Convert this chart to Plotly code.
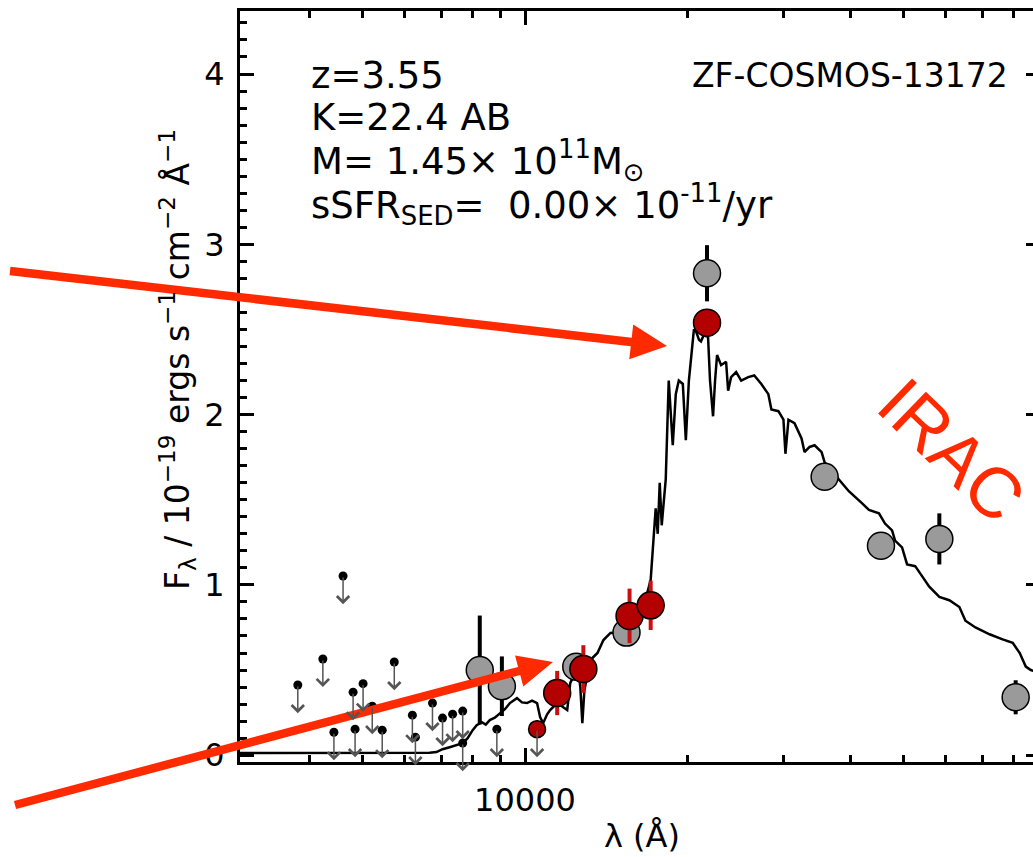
import numpy as np
import plotly.graph_objects as go

# ---------------------------------------------------------------------------
# SED of ZF-COSMOS-13172 : observed-frame wavelength (Angstrom),
# F_lambda in units of 1e-19 erg s^-1 cm^-2 A^-1
# ---------------------------------------------------------------------------

# best-fit stellar population model
model_wave = [2900, 3819, 5377, 6660, 6862, 7040, 7256, 7475, 7671, 7834, 8003,
              8142, 8321, 8463, 8608, 8794, 8985, 9180, 9378, 9663, 9872, 10086,
              10304, 10527, 10664, 10802, 10988, 11130, 11468, 11765, 11968, 12125,
              12335, 12495, 12655, 12764, 12875, 13209, 13613, 13964, 14388, 14825,
              15210, 15674, 16150, 16569, 16928, 17073, 17221, 17441, 17592, 17743,
              17895, 18048, 18203, 18437, 18755, 18998, 19245, 19576, 19829, 20088,
              20348, 20523, 20701, 20969, 21149, 21424, 21608, 21793, 21979, 22265,
              22456, 22648, 23041, 23536, 23740, 24044, 24565, 25097, 25860, 26535,
              27342, 28174, 28539, 29405, 30041, 30299, 30690, 31486, 32448, 32860,
              33574, 34300, 35340, 35800, 36890, 38010, 39680, 40720, 41950, 43230,
              45110, 46290, 47700, 48310, 49770, 50850, 52630, 54230, 55880, 58330,
              60860, 63530, 65180, 68030, 72230, 76360, 79700, 82130, 84270, 86100,
              87960, 90640]
model_flux = [0.012, 0.012, 0.013, 0.015, 0.018, 0.035, 0.047, 0.060, 0.070, 0.100, 0.147,
              0.176, 0.194, 0.180, 0.206, 0.220, 0.247, 0.270, 0.306, 0.335, 0.310, 0.306,
              0.320, 0.306, 0.224, 0.188, 0.240, 0.265, 0.306, 0.282, 0.265, 0.424,
              0.470, 0.541, 0.400, 0.188, 0.380, 0.559, 0.600, 0.676, 0.718, 0.720,
              0.753, 0.794, 0.835, 0.871, 0.980, 1.030, 1.200, 1.450, 1.300, 1.600,
              1.350, 1.500, 1.620, 2.200, 1.820, 2.120, 2.200, 2.180, 1.850, 2.200,
              2.400, 2.500, 2.490, 2.440, 2.430, 2.470, 2.460, 2.460, 2.200, 1.990,
              2.200, 2.350, 2.290, 2.310, 2.140, 2.220, 2.250, 2.200, 2.220, 2.230,
              2.180, 2.120, 2.030, 2.020, 1.970, 1.770, 1.970, 1.950, 1.860, 1.780,
              1.810, 1.820, 1.780, 1.720, 1.680, 1.620, 1.550, 1.520, 1.480, 1.440,
              1.420, 1.360, 1.320, 1.260, 1.220, 1.120, 1.110, 1.050, 0.990, 0.930,
              0.910, 0.870, 0.790, 0.750, 0.710, 0.680, 0.660, 0.600, 0.520, 0.500,
              0.490, 0.470]

# broad-band photometry (grey)
broad_wave = [8249, 9063, 12440, 15404, 21700, 35800, 45500, 58330, 80720]
broad_flux = [0.50, 0.405, 0.52, 0.72, 2.83, 1.635, 1.23, 1.27, 0.34]
broad_err = [0.32, 0.175, 0.05, 0.05, 0.165, 0.05, 0.05, 0.15, 0.10]

# ZFOURGE medium-band photometry (red)
medium_wave = [11468, 12820, 15605, 17073, 21700]
medium_flux = [0.365, 0.506, 0.818, 0.88, 2.54]
medium_err = [0.13, 0.14, 0.16, 0.145, 0.05]

# faint medium-band point (J1)
faint_wave = [10527]
faint_flux = [0.153]
faint_err = [0.05]

# 1-sigma upper limits
limit_wave = [3802, 4230, 4434, 4610, 4811, 4852, 5020, 5220, 5446, 5733, 6192,
              6272, 6745, 7040, 7348, 7671, 7671, 8871, 10527]
limit_flux = [0.412, 0.565, 0.135, 1.052, 0.37, 0.153, 0.42, 0.288, 0.147, 0.547, 0.235,
              0.106, 0.306, 0.218, 0.241, 0.259, 0.071, 0.153, 0.153]

x_ticks = [10000]
x_ticktext = ["10000"]
x_minor = [4000, 5000, 6000, 7000, 8000, 9000, 20000, 30000, 40000, 50000,
           60000, 70000, 80000]
y_ticks = [0, 1, 2, 3, 4]

info_lines = ["z=3.55",
              "K=22.4 AB",
              "M= 1.45× 10<sup>11</sup>M<sub>⊙</sub>",
              "sSFR<sub>SED</sub>=\u00a0 0.00× 10<sup>-11</sup>/yr"]
object_name = "ZF-COSMOS-13172"
band_label = "IRAC"

# ---------------------------------------------------------------------------
W, H = 1033, 857
ML, MR, MT, MB = 240, 0, 11, 95
PW, PH = W - ML - MR, H - MT - MB
FONT = "DejaVu Sans, Verdana, sans-serif"
FONT_BAND = "Liberation Sans, Arial, Helvetica, sans-serif"
RED = "#ff2a00"
ARROW_LEN = 0.165          # length of upper-limit arrows in flux units


def px(x, y):
    """pixel position on the page -> paper coordinates"""
    return (x - ML) / PW, (MT + PH - y) / PH


def arrow_path(tail, tip, shaft, head_len, head_half):
    t = np.array(tail, float)
    h = np.array(tip, float)
    u = (h - t) / np.linalg.norm(h - t)
    n = np.array([-u[1], u[0]])
    base = h - u * head_len
    pts = [t + n * shaft / 2, base + n * shaft / 2, base + n * head_half, h,
           base - n * head_half, base - n * shaft / 2, t - n * shaft / 2]
    cmds = []
    for i, p in enumerate(pts):
        xp, yp = px(*p)
        cmds.append(("M" if i == 0 else "L") + f"{xp:.5f},{yp:.5f}")
    return " ".join(cmds) + " Z"


fig = go.Figure()

fig.add_trace(go.Scatter(x=model_wave, y=model_flux, mode="lines",
                         line=dict(color="black", width=2.5), hoverinfo="skip"))

fig.add_trace(go.Scatter(x=limit_wave, y=limit_flux, mode="markers",
                         marker=dict(color="black", size=9), hoverinfo="skip"))

fig.add_trace(go.Scatter(x=broad_wave, y=broad_flux, mode="markers",
                         error_y=dict(type="data", array=broad_err, color="black",
                                      thickness=4, width=0),
                         marker=dict(color="#9a9a9a", size=27,
                                     line=dict(color="black", width=1.5))))

fig.add_trace(go.Scatter(x=faint_wave, y=faint_flux, mode="markers",
                         error_y=dict(type="data", array=faint_err, color="#c81010",
                                      thickness=4, width=0),
                         marker=dict(color="#b30000", size=17,
                                     line=dict(color="black", width=1.5))))

fig.add_trace(go.Scatter(x=medium_wave, y=medium_flux, mode="markers",
                         error_y=dict(type="data", array=medium_err, color="#c81010",
                                      thickness=4, width=0),
                         marker=dict(color="#b30000", size=27,
                                     line=dict(color="black", width=1.5))))

# right-hand frame ticks
fig.add_trace(go.Scatter(x=[model_wave[0]], y=[model_flux[0]], yaxis="y2",
                         mode="markers", marker=dict(opacity=0), hoverinfo="skip"))

annotations = []

# upper-limit arrows
for w, f in zip(limit_wave, limit_flux):
    annotations.append(dict(x=np.log10(w), y=f - ARROW_LEN, ax=np.log10(w), ay=f,
                            xref="x", yref="y", axref="x", ayref="y", text="",
                            showarrow=True, arrowhead=4, arrowsize=1.6,
                            arrowwidth=1.5, arrowcolor="#555555"))

# text block
for i, line in enumerate(info_lines):
    xp, yp = px(309, 75 + 43 * i)
    annotations.append(dict(x=xp, y=yp, xref="paper", yref="paper", text=line,
                            showarrow=False, xanchor="left", yanchor="middle",
                            font=dict(family=FONT, size=37, color="black")))

xp, yp = px(1010, 75)
annotations.append(dict(x=xp, y=yp, xref="paper", yref="paper", text=object_name,
                        showarrow=False, xanchor="right", yanchor="middle",
                        font=dict(family=FONT, size=33, color="black")))

xp, yp = px(952, 450)
annotations.append(dict(x=xp, y=yp, xref="paper", yref="paper", text=band_label,
                        showarrow=False, textangle=44, xanchor="center",
                        yanchor="middle",
                        font=dict(family=FONT_BAND, size=71, color=RED)))

# axis titles
xp, yp = px(177, 360)
annotations.append(dict(x=xp, y=yp, xref="paper", yref="paper",
                        text="F<sub>λ</sub> / 10<sup>−19</sup> ergs s<sup>−1</sup> "
                             "cm<sup>−2</sup> Å<sup>−1</sup>",
                        showarrow=False, textangle=-90, xanchor="center",
                        yanchor="middle", font=dict(family=FONT, size=33, color="black")))
xp, yp = px(642, 836)
annotations.append(dict(x=xp, y=yp, xref="paper", yref="paper", text="λ (Å)",
                        showarrow=False, xanchor="center", yanchor="middle",
                        font=dict(family=FONT, size=32, color="black")))

shapes = [
    dict(type="path", xref="paper", yref="paper", layer="above",
         path=arrow_path((10, 271), (667, 346), 8.5, 36, 17.5),
         fillcolor=RED, line=dict(width=0)),
    dict(type="path", xref="paper", yref="paper", layer="above",
         path=arrow_path((15, 805), (553, 662), 8.5, 35, 16),
         fillcolor=RED, line=dict(width=0)),
]

x_range = [np.log10(2973), np.log10(86900)]
y_range = [-0.04, 4.37]

fig.update_layout(
    width=W, height=H,
    margin=dict(l=ML, r=MR, t=MT, b=MB),
    paper_bgcolor="white", plot_bgcolor="white",
    showlegend=False,
    font=dict(family=FONT, size=32, color="black"),
    xaxis=dict(type="log", range=x_range, tickmode="array", tickvals=x_ticks,
               ticktext=x_ticktext, ticks="inside", ticklen=14, tickwidth=2.5,
               tickcolor="black", showline=True, linewidth=3, linecolor="black",
               mirror="ticks", showgrid=False, zeroline=False,
               ticklabelstandoff=8,
               tickfont=dict(family=FONT, size=32, color="black"),
               minor=dict(tickmode="array", tickvals=x_minor, ticks="inside",
                          ticklen=7, tickwidth=2.5, tickcolor="black", showgrid=False)),
    yaxis=dict(range=y_range, tickmode="array", tickvals=y_ticks, ticks="inside",
               ticklen=14, tickwidth=2.5, tickcolor="black", showline=True,
               linewidth=3, linecolor="black", showgrid=False, zeroline=False,
               ticklabelstandoff=6,
               tickfont=dict(family=FONT, size=32, color="black"),
               minor=dict(dtick=0.1, ticks="inside", ticklen=7, tickwidth=2.5,
                          tickcolor="black", showgrid=False)),
    yaxis2=dict(range=y_range, overlaying="y", side="right", tickmode="array",
                tickvals=y_ticks, ticks="inside", ticklen=7, tickwidth=2.5,
                tickcolor="black", showline=False, showgrid=False, zeroline=False,
                showticklabels=False),
    annotations=annotations,
    shapes=shapes,
)

fig.write_html("out.html")
